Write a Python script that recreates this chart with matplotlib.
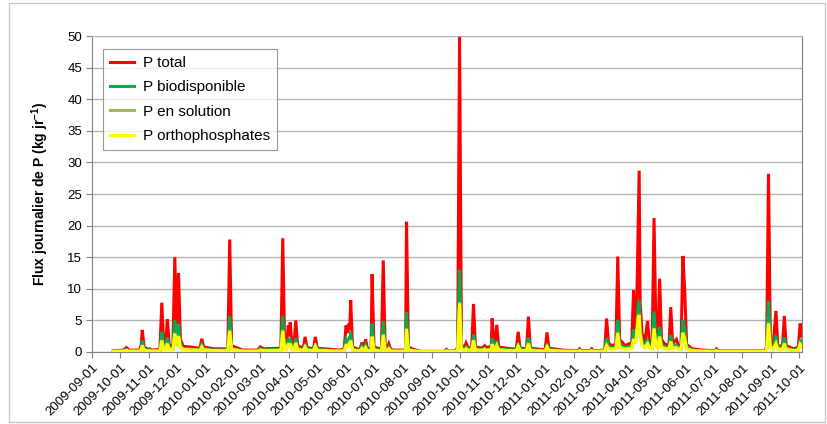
import matplotlib
matplotlib.use("Agg")
import matplotlib.pyplot as plt
import matplotlib.dates as mdates
from matplotlib.patches import Rectangle
import pandas as pd

plt.rcParams["font.family"] = ["Liberation Sans", "DejaVu Sans"]
plt.rcParams["mathtext.default"] = "regular"

# daily P fluxes (kg/day)
dates = [
    "2009-09-24", "2009-10-05", "2009-10-08", "2009-10-11", "2009-10-22", "2009-10-24",
    "2009-10-25", "2009-10-27", "2009-10-31", "2009-11-02", "2009-11-04", "2009-11-13",
    "2009-11-15", "2009-11-17", "2009-11-19", "2009-11-21", "2009-11-23", "2009-11-27",
    "2009-11-29", "2009-12-01", "2009-12-03", "2009-12-05", "2009-12-08", "2009-12-15",
    "2009-12-20", "2009-12-26", "2009-12-28", "2009-12-30", "2010-01-10", "2010-01-25",
    "2010-01-27", "2010-01-29", "2010-02-10", "2010-02-26", "2010-03-01", "2010-03-04",
    "2010-03-23", "2010-03-25", "2010-03-27", "2010-03-29", "2010-03-31", "2010-04-01",
    "2010-04-02", "2010-04-04", "2010-04-06", "2010-04-08", "2010-04-10", "2010-04-16",
    "2010-04-18", "2010-04-20", "2010-04-27", "2010-04-29", "2010-05-01", "2010-05-09",
    "2010-05-25", "2010-05-30", "2010-06-01", "2010-06-03", "2010-06-04", "2010-06-05",
    "2010-06-06", "2010-06-08", "2010-06-16", "2010-06-18", "2010-06-20", "2010-06-22",
    "2010-06-24", "2010-06-28", "2010-06-29", "2010-07-01", "2010-07-09", "2010-07-11",
    "2010-07-13", "2010-07-15", "2010-07-17", "2010-07-19", "2010-07-23", "2010-08-04",
    "2010-08-05", "2010-08-07", "2010-08-11", "2010-08-20", "2010-09-15", "2010-09-17",
    "2010-09-19", "2010-09-27", "2010-09-29", "2010-10-01", "2010-10-03", "2010-10-06",
    "2010-10-08", "2010-10-10", "2010-10-14", "2010-10-16", "2010-10-18", "2010-10-25",
    "2010-10-28", "2010-10-30", "2010-11-01", "2010-11-04", "2010-11-05", "2010-11-07",
    "2010-11-08", "2010-11-10", "2010-11-12", "2010-11-25", "2010-12-01", "2010-12-03",
    "2010-12-05", "2010-12-12", "2010-12-14", "2010-12-16", "2010-12-28", "2011-01-01",
    "2011-01-03", "2011-01-05", "2011-01-20", "2011-02-05", "2011-02-07", "2011-02-09",
    "2011-02-18", "2011-02-20", "2011-02-22", "2011-03-06", "2011-03-08", "2011-03-10",
    "2011-03-13", "2011-03-18", "2011-03-20", "2011-03-22", "2011-03-28", "2011-04-04",
    "2011-04-06", "2011-04-08", "2011-04-09", "2011-04-11", "2011-04-12", "2011-04-13",
    "2011-04-15", "2011-04-18", "2011-04-21", "2011-04-23", "2011-04-26", "2011-04-28",
    "2011-04-30", "2011-05-02", "2011-05-04", "2011-05-06", "2011-05-09", "2011-05-14",
    "2011-05-16", "2011-05-18", "2011-05-22", "2011-05-24", "2011-05-27", "2011-05-29",
    "2011-05-31", "2011-06-02", "2011-06-08", "2011-06-20", "2011-07-02", "2011-07-04",
    "2011-07-06", "2011-08-25", "2011-08-27", "2011-08-29", "2011-08-31", "2011-09-03",
    "2011-09-06", "2011-09-08", "2011-09-13", "2011-09-15", "2011-09-17", "2011-09-25",
    "2011-09-30", "2011-10-02", "2011-10-04",
]

p_total = [
    0.2, 0.3, 0.7, 0.3, 0.3, 1.2,
    3.5, 0.8, 0.4, 0.5, 0.3, 0.4,
    7.8, 1.2, 0.9, 5.2, 1.0, 1.0,
    15.0, 2.5, 12.5, 2.0, 0.9, 0.8,
    0.7, 0.6, 2.1, 0.8, 0.5, 0.5,
    17.8, 1.0, 0.3, 0.3, 0.8, 0.5,
    0.6, 18.0, 1.2, 1.0, 4.2, 2.5,
    4.7, 1.0, 0.9, 5.0, 1.0, 0.6,
    2.4, 0.7, 0.5, 2.4, 0.6, 0.5,
    0.3, 0.5, 4.2, 3.0, 4.5, 3.5,
    8.2, 0.8, 0.3, 1.5, 0.5, 2.0,
    0.5, 0.5, 12.3, 0.8, 0.4, 14.5,
    0.8, 0.5, 1.3, 0.4, 0.3, 0.3,
    20.6, 0.8, 0.5, 0.1, 0.1, 0.4,
    0.1, 0.2, 0.8, 50.0, 1.2, 0.6,
    1.4, 0.7, 0.6, 7.6, 0.8, 0.6,
    1.0, 0.6, 0.8, 0.8, 5.3, 1.0,
    0.8, 4.3, 0.8, 0.5, 0.5, 3.2,
    0.6, 0.5, 5.6, 0.6, 0.4, 0.4,
    3.1, 0.6, 0.3, 0.2, 0.5, 0.2,
    0.2, 0.5, 0.2, 0.3, 5.3, 1.5,
    1.0, 1.2, 15.1, 2.0, 1.0, 1.5,
    9.8, 3.0, 4.0, 20.0, 28.7, 8.0,
    3.0, 1.5, 4.9, 1.5, 1.2, 21.2,
    3.5, 1.5, 11.6, 2.0, 1.3, 1.0,
    7.1, 1.3, 2.0, 1.0, 1.0, 15.2,
    9.5, 1.2, 0.5, 0.3, 0.2, 0.5,
    0.15, 0.15, 0.8, 28.2, 1.5, 1.0,
    6.5, 1.0, 0.9, 5.7, 1.0, 0.5,
    0.8, 4.5, 2.5,
]

p_bio = [
    0.15, 0.2, 0.4, 0.2, 0.2, 0.7,
    1.8, 0.5, 0.25, 0.3, 0.2, 0.25,
    3.2, 0.7, 0.6, 2.3, 0.6, 0.6,
    5.0, 1.5, 4.5, 1.2, 0.6, 0.5,
    0.45, 0.4, 1.2, 0.5, 0.3, 0.3,
    5.7, 0.6, 0.2, 0.2, 0.5, 0.3,
    0.4, 5.7, 0.7, 0.6, 2.1, 1.4,
    2.2, 0.6, 0.55, 2.2, 0.6, 0.35,
    1.3, 0.45, 0.3, 1.4, 0.35, 0.3,
    0.2, 0.3, 2.0, 1.5, 2.0, 1.8,
    3.2, 0.5, 0.2, 0.9, 0.3, 1.1,
    0.3, 0.3, 4.5, 0.5, 0.25, 4.9,
    0.5, 0.3, 0.8, 0.25, 0.2, 0.2,
    6.3, 0.5, 0.3, 0.07, 0.07, 0.25,
    0.07, 0.15, 0.5, 13.0, 0.7, 0.4,
    0.8, 0.45, 0.4, 2.8, 0.5, 0.4,
    0.6, 0.4, 0.5, 0.5, 2.2, 0.6,
    0.5, 1.8, 0.5, 0.3, 0.3, 1.4,
    0.35, 0.3, 2.3, 0.35, 0.25, 0.25,
    1.3, 0.35, 0.2, 0.15, 0.3, 0.15,
    0.15, 0.3, 0.15, 0.2, 2.2, 0.9,
    0.7, 0.8, 5.1, 1.2, 0.7, 0.9,
    3.6, 1.8, 3.0, 7.0, 8.1, 4.0,
    1.8, 1.0, 2.1, 1.0, 0.8, 6.4,
    1.8, 1.0, 4.0, 1.2, 0.8, 0.7,
    2.7, 0.8, 1.1, 0.7, 0.7, 5.1,
    3.5, 0.8, 0.3, 0.2, 0.15, 0.3,
    0.1, 0.1, 0.5, 8.1, 1.0, 0.7,
    2.6, 0.7, 0.6, 2.3, 0.7, 0.3,
    0.5, 2.0, 1.4,
]

p_sol = [
    0.12, 0.15, 0.3, 0.15, 0.15, 0.5,
    1.1, 0.35, 0.2, 0.2, 0.15, 0.2,
    1.9, 0.5, 0.45, 1.4, 0.45, 0.45,
    3.0, 1.0, 2.6, 0.8, 0.45, 0.4,
    0.35, 0.3, 0.85, 0.4, 0.25, 0.25,
    3.5, 0.45, 0.15, 0.15, 0.35, 0.25,
    0.3, 3.5, 0.5, 0.45, 1.4, 0.9,
    1.4, 0.45, 0.4, 1.5, 0.45, 0.3,
    0.85, 0.35, 0.25, 0.95, 0.3, 0.25,
    0.15, 0.2, 1.1, 1.0, 1.3, 1.2,
    1.9, 0.35, 0.15, 0.6, 0.25, 0.75,
    0.25, 0.25, 2.5, 0.35, 0.2, 2.8,
    0.35, 0.25, 0.55, 0.2, 0.15, 0.15,
    3.7, 0.35, 0.25, 0.06, 0.06, 0.2,
    0.06, 0.1, 0.4, 7.9, 0.5, 0.3,
    0.55, 0.35, 0.3, 1.9, 0.35, 0.3,
    0.45, 0.3, 0.35, 0.35, 1.3, 0.45,
    0.35, 1.1, 0.35, 0.25, 0.25, 0.95,
    0.3, 0.25, 1.4, 0.3, 0.2, 0.2,
    0.85, 0.3, 0.15, 0.1, 0.25, 0.1,
    0.1, 0.25, 0.1, 0.15, 1.1, 0.6,
    0.5, 0.55, 3.1, 0.8, 0.5, 0.6,
    2.1, 1.4, 2.5, 5.6, 6.0, 3.2,
    1.2, 0.7, 1.4, 0.7, 0.55, 3.8,
    1.2, 0.7, 2.5, 0.8, 0.6, 0.5,
    1.7, 0.6, 0.8, 0.5, 0.5, 3.1,
    2.1, 0.55, 0.25, 0.15, 0.1, 0.25,
    0.08, 0.08, 0.4, 4.7, 0.7, 0.5,
    1.4, 0.5, 0.45, 1.4, 0.5, 0.25,
    0.35, 1.3, 0.9,
]

p_ortho = [
    0.1, 0.12, 0.25, 0.12, 0.12, 0.4,
    1.0, 0.3, 0.15, 0.2, 0.12, 0.15,
    1.8, 0.45, 0.4, 1.3, 0.4, 0.4,
    2.9, 0.9, 2.5, 0.7, 0.4, 0.35,
    0.3, 0.25, 0.8, 0.35, 0.2, 0.2,
    3.3, 0.4, 0.12, 0.12, 0.3, 0.2,
    0.25, 3.3, 0.45, 0.4, 1.3, 0.8,
    1.3, 0.4, 0.35, 1.4, 0.4, 0.25,
    0.8, 0.3, 0.2, 0.9, 0.25, 0.2,
    0.12, 0.2, 1.0, 0.9, 1.2, 1.1,
    1.8, 0.3, 0.12, 0.55, 0.2, 0.7,
    0.2, 0.2, 2.4, 0.3, 0.15, 2.7,
    0.3, 0.2, 0.5, 0.15, 0.12, 0.12,
    3.6, 0.3, 0.2, 0.05, 0.05, 0.15,
    0.05, 0.1, 0.35, 7.7, 0.45, 0.25,
    0.5, 0.3, 0.25, 1.8, 0.3, 0.25,
    0.4, 0.25, 0.3, 0.3, 1.2, 0.4,
    0.3, 1.0, 0.3, 0.2, 0.2, 0.9,
    0.25, 0.2, 1.3, 0.25, 0.15, 0.15,
    0.8, 0.25, 0.12, 0.1, 0.2, 0.1,
    0.1, 0.2, 0.1, 0.12, 1.0, 0.55,
    0.45, 0.5, 3.0, 0.75, 0.45, 0.55,
    2.0, 1.3, 2.4, 5.4, 5.8, 3.0,
    1.1, 0.65, 1.3, 0.65, 0.5, 3.7,
    1.1, 0.65, 2.4, 0.75, 0.55, 0.45,
    1.6, 0.55, 0.7, 0.45, 0.45, 3.0,
    2.0, 0.5, 0.2, 0.12, 0.1, 0.2,
    0.07, 0.07, 0.35, 4.5, 0.65, 0.45,
    1.3, 0.45, 0.4, 1.3, 0.45, 0.2,
    0.3, 1.2, 0.8,
]

series_labels = ["P total", "P biodisponible", "P en solution", "P orthophosphates"]
series_colors = ["#ff0000", "#00b050", "#9bbb59", "#ffff00"]

x = pd.to_datetime(dates)

fig = plt.figure(figsize=(8.28, 4.24), dpi=100)
ax = fig.add_axes([92 / 828, 72 / 424, 710 / 828, 316 / 424])

# light frame around the whole chart
fig.patches.append(Rectangle((9 / 828, 2 / 424), 816 / 828, 419 / 424,
                             transform=fig.transFigure, fill=False,
                             edgecolor="#c8c8c8", linewidth=1.0))

for vals, lab, col in zip([p_total, p_bio, p_sol, p_ortho], series_labels, series_colors):
    ax.plot(x, vals, color=col, linewidth=2.2, label=lab, solid_joinstyle="miter")

ax.set_ylim(0, 50)
ax.set_yticks(range(0, 51, 5))
ax.set_xlim(pd.Timestamp("2009-09-01"), pd.Timestamp("2011-10-04"))

ticks = pd.date_range("2009-09-01", "2011-10-01", freq="MS")
ax.set_xticks(ticks)
ax.xaxis.set_major_formatter(mdates.DateFormatter("%Y-%m-%d"))
plt.setp(ax.get_xticklabels(), rotation=45, ha="right", rotation_mode="anchor",
         fontsize=9.5)
plt.setp(ax.get_yticklabels(), fontsize=9.5)
ax.tick_params(axis="both", direction="out", length=4, color="#808080", pad=3)

ax.grid(axis="y", color="#b4b4b4", linewidth=1.0)
ax.set_axisbelow(True)
for side in ["left", "bottom", "right"]:
    ax.spines[side].set_color("#808080")
ax.spines["top"].set_color("#b4b4b4")

ax.set_ylabel("Flux journalier de P (kg jr$^{-1}$)", fontsize=10, fontweight="bold",
              labelpad=12)

leg = ax.legend(loc="upper left", bbox_to_anchor=(11 / 710, 303 / 316),
                borderaxespad=0, fontsize=11, frameon=True, fancybox=False,
                edgecolor="#808080", handlelength=1.6, handletextpad=0.6,
                labelspacing=0.68, borderpad=0.45)
leg.get_frame().set_linewidth(0.8)

fig.savefig("out.png", dpi=100)
